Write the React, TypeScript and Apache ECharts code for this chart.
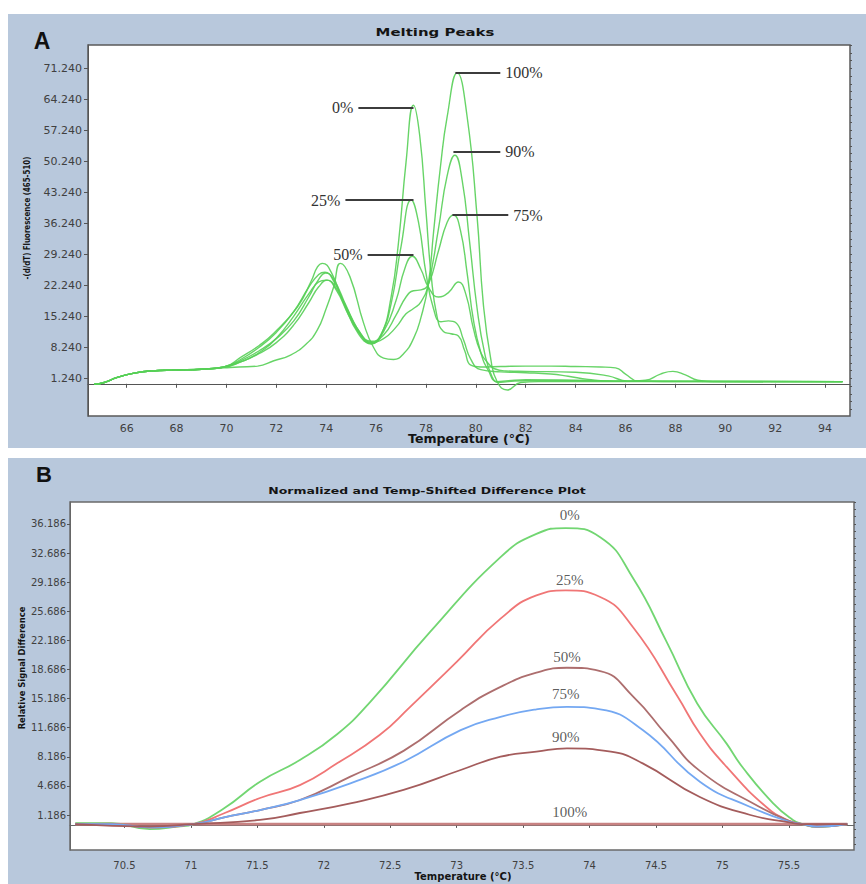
import React, { useEffect, useRef } from 'react';
import * as echarts from 'echarts';

// ---------- Panel A: Melting Peaks ----------
const seriesNamesA = ['0%', '25%', '50%', '75%', '90%', '100%'];
const xTicksA = [66, 68, 70, 72, 74, 76, 78, 80, 82, 84, 86, 88, 90, 92, 94];
const yTicksA = [1.24, 8.24, 15.24, 22.24, 29.24, 36.24, 43.24, 50.24, 57.24, 64.24, 71.24];

const curveA0 = [[64.7,-0.1],[65.1,0.3],[65.6,1.4],[66.3,2.4],[67.0,2.9],[68.0,3.1],[69.0,3.3],[69.9,3.8],[70.6,5.0],[71.3,7.0],[72.0,10.3],[72.7,15.3],[73.3,20.3],[73.7,23.0],[74.0,23.4],[74.4,21.2],[74.9,15.5],[75.4,10.8],[75.8,9.0],[76.2,11.0],[76.6,19.5],[76.9,32.0],[77.2,50.0],[77.5,62.9],[77.75,56.0],[78.0,39.0],[78.2,25.0],[78.45,15.0],[78.7,11.8],[79.0,11.3],[79.3,10.8],[79.55,7.5],[79.8,4.2],[80.2,3.8],[81.0,3.9],[82.0,4.0],[83.0,4.0],[84.0,3.9],[85.0,3.8],[85.6,3.6],[86.0,2.2],[86.5,0.6],[87.5,0.5],[94.7,0.5]];
const curveA25 = [[64.7,-0.1],[65.1,0.3],[65.6,1.4],[66.3,2.4],[67.0,2.9],[68.0,3.1],[69.0,3.3],[69.9,3.8],[70.6,5.6],[71.3,8.2],[72.0,11.6],[72.7,16.3],[73.3,21.8],[73.7,24.7],[73.95,25.2],[74.3,23.2],[74.8,17.2],[75.3,11.8],[75.8,9.3],[76.2,11.2],[76.6,18.0],[77.0,31.0],[77.41,41.5],[77.7,36.5],[78.0,25.0],[78.3,17.0],[78.6,14.0],[78.9,14.2],[79.2,13.8],[79.5,10.0],[79.8,5.5],[80.2,3.2],[81.0,2.7],[82.0,2.5],[83.0,2.2],[83.7,1.7],[84.5,1.0],[85.5,0.6],[94.7,0.5]];
const curveA50 = [[64.7,-0.1],[65.1,0.3],[65.6,1.4],[66.3,2.4],[67.0,2.9],[68.0,3.1],[69.0,3.3],[69.9,3.8],[70.6,6.1],[71.3,8.6],[71.9,11.4],[72.85,17.4],[73.4,23.2],[73.65,26.4],[73.85,27.2],[74.2,25.2],[74.7,18.2],[75.3,11.2],[75.8,9.1],[76.3,11.8],[76.8,18.8],[77.15,26.0],[77.45,28.8],[77.8,25.8],[78.1,21.8],[78.5,19.6],[78.9,20.6],[79.3,23.0],[79.6,20.2],[79.9,12.5],[80.2,7.0],[80.5,4.6],[80.75,3.4],[81.2,2.9],[82.0,2.8],[84.0,2.6],[85.3,1.8],[86.1,0.6],[86.8,0.8],[87.4,2.2],[87.9,2.8],[88.4,2.0],[88.9,0.8],[89.5,0.5],[94.7,0.5]];
const curveA75 = [[64.7,-0.1],[65.1,0.3],[65.6,1.4],[66.3,2.4],[67.0,2.9],[68.0,3.1],[69.0,3.3],[69.9,3.8],[70.6,5.3],[71.3,7.4],[72.0,10.2],[72.7,14.2],[73.3,19.6],[73.7,23.6],[73.97,25.0],[74.3,23.6],[74.8,17.6],[75.3,12.0],[75.8,9.6],[76.3,11.0],[76.8,15.5],[77.2,19.6],[77.5,21.0],[77.8,21.2],[78.1,22.5],[78.5,30.0],[78.85,36.5],[79.1,38.1],[79.38,34.7],[79.65,25.0],[79.9,14.5],[80.2,7.0],[80.5,3.0],[80.85,0.5],[81.3,0.7],[82.0,0.9],[84.0,0.8],[86.0,0.6],[94.7,0.5]];
const curveA90 = [[64.7,-0.1],[65.1,0.3],[65.6,1.4],[66.3,2.4],[67.0,2.9],[68.0,3.1],[69.0,3.3],[69.9,3.7],[70.6,5.0],[71.3,6.8],[72.0,9.3],[72.7,13.3],[73.3,18.3],[73.7,21.9],[74.05,23.4],[74.4,21.6],[74.9,16.2],[75.4,11.2],[75.8,9.4],[76.3,10.2],[76.8,12.8],[77.2,15.8],[77.5,17.0],[77.8,18.5],[78.1,22.6],[78.5,35.0],[78.85,47.0],[79.16,51.6],[79.45,46.0],[79.75,32.0],[80.05,17.0],[80.35,7.0],[80.65,1.6],[80.9,0.3],[81.3,0.5],[82.0,0.7],[84.0,0.7],[86.0,0.6],[94.7,0.5]];
const curveA100 = [[64.7,-0.1],[65.1,0.3],[65.6,1.4],[66.3,2.4],[67.0,2.9],[68.0,3.1],[69.0,3.3],[69.9,3.6],[70.5,3.8],[71.25,4.0],[71.9,5.2],[72.57,6.5],[73.2,9.0],[73.64,12.1],[74.0,17.0],[74.3,21.9],[74.57,27.2],[74.95,24.2],[75.5,13.7],[75.9,8.2],[76.3,5.8],[76.7,5.5],[77.1,6.8],[77.5,10.2],[77.8,15.0],[78.1,22.7],[78.3,34.0],[78.58,49.0],[78.85,60.3],[79.25,70.2],[79.65,60.3],[80.05,37.7],[80.3,18.0],[80.6,5.5],[80.86,0.4],[81.26,-1.4],[81.8,0.3],[82.5,0.5],[94.7,0.5]];
const curvesA = [curveA0, curveA25, curveA50, curveA75, curveA90, curveA100];

// label leader lines (data coords): start x, end x, level
const peakLineStartA = [75.29, 74.77, 75.66, 79.06, 79.1, 79.18];
const peakLineEndA = [77.5, 77.5, 77.5, 81.3, 80.98, 80.98];
const peakLineLevelA = [62.3, 41.5, 29.1, 38.1, 52.4, 70.2];

// ---------- Panel B: Difference plot ----------
const seriesNamesB = ['0%', '25%', '50%', '75%', '90%', '100%'];
const xTicksB = [70.5, 71, 71.5, 72, 72.5, 73, 73.5, 74, 74.5, 75, 75.5];
const yTicksB = [1.186, 4.686, 8.186, 11.686, 15.186, 18.686, 22.186, 25.686, 29.186, 32.686, 36.186];

const curveB0 = [[70.13,0.2],[70.4,0.2],[70.69,-0.5],[70.9,-0.2],[71.02,0.1],[71.25,2.0],[71.52,5.19],[71.82,7.8],[72.1,10.9],[72.35,14.8],[72.8,23.2],[73.33,32.2],[73.6,35.0],[73.82,35.7],[74.08,34.6],[74.33,29.6],[74.58,22.0],[74.81,14.6],[75.03,9.8],[75.15,6.96],[75.38,2.63],[75.53,0.6],[75.6,0.1],[75.71,-0.26],[75.85,-0.1],[75.94,0.1]];
const curveB25 = [[70.13,0.1],[70.4,0.15],[70.69,-0.3],[71.02,0.1],[71.25,1.4],[71.52,3.23],[71.82,4.79],[72.1,7.4],[72.42,10.8],[72.65,14.2],[73.0,19.6],[73.33,24.8],[73.6,27.6],[73.82,28.2],[74.08,27.4],[74.33,23.7],[74.66,15.5],[74.83,11.0],[75.03,7.0],[75.33,2.15],[75.5,0.5],[75.6,0.1],[75.71,-0.2],[75.94,0.1]];
const curveB50 = [[70.13,0.1],[70.4,0.1],[70.69,-0.3],[71.02,0.1],[71.25,0.9],[71.52,1.79],[71.82,2.99],[72.2,5.8],[72.6,8.9],[73.03,13.8],[73.33,16.6],[73.6,18.3],[73.83,18.9],[74.08,18.5],[74.33,15.4],[74.58,10.8],[74.83,6.5],[75.28,2.15],[75.5,0.5],[75.6,0.1],[75.71,-0.2],[75.94,0.1]];
const curveB75 = [[70.13,0.1],[70.4,0.1],[70.69,-0.3],[71.02,0.1],[71.25,0.9],[71.52,1.79],[71.82,2.99],[72.2,5.0],[72.6,7.6],[73.03,11.4],[73.33,13.0],[73.6,13.9],[73.83,14.2],[74.08,13.9],[74.4,11.4],[74.83,5.2],[75.21,2.15],[75.5,0.4],[75.6,0.1],[75.71,-0.2],[75.94,0.1]];
const curveB90 = [[70.13,0.1],[70.69,-0.2],[71.02,0.1],[71.52,0.6],[71.82,1.43],[72.2,2.6],[72.6,4.2],[73.03,6.6],[73.33,8.2],[73.6,8.8],[73.83,9.2],[74.16,8.8],[74.4,7.4],[74.83,3.35],[75.21,1.19],[75.5,0.3],[75.6,0.1],[75.94,0.1]];
const curveB100 = [[70.13,0.1],[71.0,0.1],[73.0,0.1],[75.0,0.1],[75.94,0.1]];
const curvesB = [curveB0, curveB25, curveB50, curveB75, curveB90, curveB100];
const colorsB = ['#72d672', '#f07676', '#ad6e6e', '#74a8f2', '#a45c5c', '#c88282'];

const labelPosB = [[73.85, 37.27], [73.85, 29.45], [73.83, 20.15], [73.82, 15.8], [73.82, 10.53], [73.85, 1.51]];

const PANEL = '#b8c8dc';

function textWidth(text: string, font: string): number {
  const ctx = document.createElement('canvas').getContext('2d');
  if (!ctx) return 1;
  ctx.font = font;
  return ctx.measureText(text).width || 1;
}

function fittedText(text: string, x: number, y: number, font: string, width: number, rotation = 0): any {
  const w = textWidth(text, font);
  return {
    type: 'text', x, y, rotation, scaleX: width / w, scaleY: 1, z: 10, silent: true,
    style: {
      text, font, fill: '#141414',
      textAlign: 'center', textVerticalAlign: 'middle', align: 'center', verticalAlign: 'middle',
    },
  };
}

function minorOf(ticks: number[], parts: number, lo: number, hi: number): number[] {
  const step = (ticks[1] - ticks[0]) / parts;
  const out: number[] = [];
  for (let v = ticks[0] - step * parts * 2; v <= hi; v += step) {
    if (v >= lo && v <= hi) out.push(+v.toFixed(4));
  }
  return out;
}

export default function App() {
  const ref = useRef<HTMLDivElement>(null);
  useEffect(() => {
    document.body.style.margin = '0';
    document.body.style.overflow = 'hidden';
    const chart = echarts.init(ref.current!, undefined, { renderer: 'svg' });

    const yMinA = -7.27, yMaxA = 76.5, xMinA = 64.45, xMaxA = 95.0;
    const yMinB = -3.02, yMaxB = 38.83, xMinB = 70.09, xMaxB = 75.99;

    const axisLabelBase = { color: '#404040', fontFamily: 'DejaVu Sans' };
    const tickStyle = { color: '#555', width: 1 };

    const seriesA = curvesA.map((d, i) => ({
      name: seriesNamesA[i], type: 'line', xAxisIndex: 0, yAxisIndex: 0,
      data: d, symbol: 'none', showSymbol: false, smooth: 0.5,
      lineStyle: { width: 1.4, color: '#56cf56', opacity: 0.9 },
      emphasis: { disabled: true }, silent: true, z: 3,
      markLine: {
        silent: true, symbol: ['none', 'none'], animation: false,
        lineStyle: { color: '#3c3c3c', width: 2, type: 'solid' },
        emphasis: { disabled: true },
        label: {
          show: true, position: i < 3 ? 'start' : 'end', formatter: seriesNamesA[i],
          color: '#333', fontFamily: 'Liberation Serif', fontSize: 16, distance: 5,
        },
        data: [[{ coord: [peakLineStartA[i], peakLineLevelA[i]] }, { coord: [peakLineEndA[i], peakLineLevelA[i]] }]],
      },
    }));

    const seriesB: any[] = curvesB.map((d, i) => ({
      name: seriesNamesB[i], type: 'line', xAxisIndex: 1, yAxisIndex: 2,
      data: d, symbol: 'none', showSymbol: false, smooth: 0.5,
      lineStyle: { width: i === 5 ? 2.8 : 1.8, color: colorsB[i] },
      emphasis: { disabled: true }, silent: true, z: i === 5 ? 2 : 3,
    }));
    seriesB.push({
      type: 'scatter', xAxisIndex: 1, yAxisIndex: 2, silent: true,
      data: labelPosB.map((p, i) => [p[0], p[1], seriesNamesB[i]]),
      symbolSize: 1, itemStyle: { color: 'rgba(0,0,0,0)' },
      label: {
        show: true, position: 'inside', formatter: (p: any) => p.data[2],
        color: '#333', fontFamily: 'Liberation Serif', fontSize: 15,
      },
      z: 5,
    });

    const option: any = {
      animation: false,
      backgroundColor: '#ffffff',
      grid: [
        { left: 88, right: 16, top: 45, bottom: 468, show: true, backgroundColor: '#fff', borderColor: '#5a5a5a', borderWidth: 1.5, containLabel: false, outerBoundsMode: 'none' },
        { left: 70, right: 12, top: 502, bottom: 34, show: true, backgroundColor: '#fff', borderColor: '#6a6a6a', borderWidth: 1.5, containLabel: false, outerBoundsMode: 'none' },
      ],
      xAxis: [
        {
          type: 'value', gridIndex: 0, min: xMinA, max: xMaxA,
          axisLine: { show: true, lineStyle: { color: '#555' } },
          axisTick: { show: true, inside: false, length: 4, customValues: xTicksA, lineStyle: tickStyle },
          axisLabel: { ...axisLabelBase, customValues: xTicksA, margin: 7, fontSize: 11, formatter: (v: number) => String(v) },
          splitLine: { show: false },
        },
        {
          type: 'value', gridIndex: 1, min: xMinB, max: xMaxB,
          axisLine: { show: true, lineStyle: { color: '#666' } },
          axisTick: { show: true, inside: false, length: 3, customValues: xTicksB, lineStyle: tickStyle },
          axisLabel: { ...axisLabelBase, customValues: xTicksB, margin: 10, fontSize: 10, formatter: (v: number) => String(v) },
          splitLine: { show: false },
        },
      ],
      yAxis: [
        {
          type: 'value', gridIndex: 0, min: yMinA, max: yMaxA,
          axisLine: { show: true, lineStyle: { color: '#555' } },
          axisTick: { show: true, inside: false, length: 4, customValues: yTicksA, lineStyle: tickStyle },
          axisLabel: { ...axisLabelBase, customValues: yTicksA, margin: 6, fontSize: 11, formatter: (v: number) => v.toFixed(3) },
          splitLine: { show: false },
        },
        {
          type: 'value', gridIndex: 0, min: yMinA, max: yMaxA,
          axisLine: { show: false },
          axisTick: { show: true, inside: false, length: 2, customValues: minorOf(yTicksA, 4, yMinA, yMaxA), lineStyle: tickStyle },
          axisLabel: { show: false },
          splitLine: { show: false },
        },
        {
          type: 'value', gridIndex: 1, min: yMinB, max: yMaxB,
          axisLine: { show: true, lineStyle: { color: '#666' } },
          axisTick: { show: true, inside: false, length: 3, customValues: yTicksB, lineStyle: tickStyle },
          axisLabel: { ...axisLabelBase, customValues: yTicksB, margin: 4, fontSize: 10, formatter: (v: number) => v.toFixed(3) },
          splitLine: { show: false },
        },
        {
          type: 'value', gridIndex: 1, min: yMinB, max: yMaxB,
          axisLine: { show: false },
          axisTick: { show: true, inside: false, length: 2, customValues: minorOf(yTicksB, 4, yMinB, yMaxB), lineStyle: tickStyle },
          axisLabel: { show: false },
          splitLine: { show: false },
        },
      ],
      graphic: [
        { type: 'rect', z: -100, silent: true, shape: { x: 8, y: 14, width: 880, height: 434 }, style: { fill: PANEL } },
        { type: 'rect', z: -100, silent: true, shape: { x: 8, y: 458, width: 880, height: 440 }, style: { fill: PANEL } },
        {
          type: 'text', x: 42, y: 41, z: 10, silent: true,
          style: { text: 'A', font: 'bold 23px "Liberation Sans"', fill: '#111', textAlign: 'center', textVerticalAlign: 'middle', align: 'center', verticalAlign: 'middle' },
        },
        {
          type: 'text', x: 44, y: 474, z: 10, silent: true,
          style: { text: 'B', font: 'bold 22px "Liberation Sans"', fill: '#111', textAlign: 'center', textVerticalAlign: 'middle', align: 'center', verticalAlign: 'middle' },
        },
        fittedText('Melting Peaks', 435, 32, 'bold 10px "DejaVu Sans"', 119),
        fittedText('Normalized and Temp-Shifted Difference Plot', 427, 491, 'bold 9px "DejaVu Sans"', 318),
        fittedText('Temperature (°C)', 469, 439, 'bold 12px "DejaVu Sans"', 122),
        fittedText('Temperature (°C)', 463, 877, 'bold 10px "DejaVu Sans"', 97),
        fittedText('-(d/dT) Fluorescence (465-510)', 27, 218, 'bold 9px "DejaVu Sans"', 123, Math.PI / 2),
        fittedText('Relative Signal Difference', 22, 668, 'bold 9px "DejaVu Sans"', 123, Math.PI / 2),
      ],
      series: [...seriesA, ...seriesB],
    };

    chart.setOption(option);
    return () => chart.dispose();
  }, []);
  return <div ref={ref} style={{ width: 866, height: 884 }} />;
}
